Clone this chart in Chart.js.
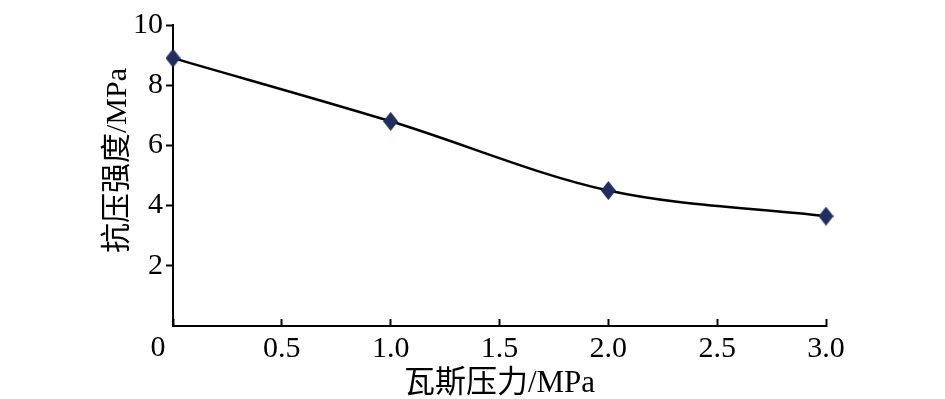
<!DOCTYPE html>
<html>
<head>
<meta charset="utf-8">
<script src="https://cdn.jsdelivr.net/npm/chart.js@4"></script>
<style>
  html, body { margin: 0; padding: 0; background: #fff; }
  #wrap { width: 945px; height: 399px; }
</style>
</head>
<body>
<div id="wrap"><canvas id="chart"></canvas></div>
<script>
// data
const gasPressure = [0, 1.0, 2.0, 3.0];          // MPa
const compStrength = [8.9, 6.8, 4.5, 3.65];      // MPa
const yTickValues = [2, 4, 6, 8, 10];
const xTitle = '瓦斯压力/MPa';
const yTitle = '抗压强度/MPa';

const FONT = "'Liberation Serif', 'Times New Roman', 'Noto Sans CJK SC', serif";

// tall diamond marker like the original (a bit taller than wide)
function diamond(w, h, color) {
    const c = document.createElement('canvas');
    c.width = w;
    c.height = h;
    const g = c.getContext('2d');
    g.fillStyle = color;
    g.beginPath();
    g.moveTo(w / 2, 0);
    g.lineTo(w, h / 2);
    g.lineTo(w / 2, h);
    g.lineTo(0, h / 2);
    g.closePath();
    g.fill();
    return c;
}

// origin "0" sits left of the axis corner in the original
const originLabel = {
    id: 'originLabel',
    afterDraw(chart) {
        const x = chart.scales.x;
        const ctx = chart.ctx;
        ctx.save();
        ctx.font = `30px ${FONT}`;
        ctx.fillStyle = '#000';
        ctx.textAlign = 'center';
        ctx.textBaseline = 'middle';
        ctx.fillText('0', x.getPixelForValue(0) - 15, x.top + 22);
        ctx.restore();
    }
};

const points = gasPressure.map((p, i) => ({ x: p, y: compStrength[i] }));

new Chart(document.getElementById('chart').getContext('2d'), {
    type: 'line',
    data: {
        datasets: [{
            data: points,
            borderColor: '#000',
            borderWidth: 2.5,
            cubicInterpolationMode: 'monotone',
            pointStyle: diamond(15, 19, '#1f2d5f'),
            pointRadius: 8,
            pointHoverRadius: 8,
            clip: false
        }]
    },
    options: {
        responsive: true,
        maintainAspectRatio: false,
        animation: false,
        events: [],
        layout: { padding: { left: 103, right: 119, top: 25, bottom: 0 } },
        plugins: {
            legend: { display: false },
            tooltip: { enabled: false }
        },
        scales: {
            x: {
                type: 'linear',
                min: 0,
                max: 3,
                afterFit: s => { s.height = 73; },
                border: { display: true, color: '#000', width: 2 },
                grid: {
                    drawOnChartArea: false,
                    drawTicks: true,
                    tickLength: -7,   // ticks point up into the plot
                    tickWidth: 2,
                    tickColor: '#000'
                },
                ticks: {
                    stepSize: 0.5,
                    padding: 12,
                    color: '#000',
                    font: { family: FONT, size: 30 },
                    maxRotation: 0,
                    callback: v => (v === 0 ? '' : v.toFixed(1))
                },
                title: {
                    display: true,
                    text: xTitle,
                    color: '#000',
                    padding: 0,
                    font: { family: FONT, size: 31, lineHeight: 1 }
                }
            },
            y: {
                min: 0,
                max: 10,
                afterFit: s => { s.width = 70; },
                afterBuildTicks: s => { s.ticks = [0].concat(yTickValues).map(v => ({ value: v })); },
                border: { display: true, color: '#000', width: 2 },
                grid: {
                    drawOnChartArea: false,
                    drawTicks: true,
                    tickLength: 7,
                    tickWidth: 2,
                    tickColor: ctx => (ctx.tick && ctx.tick.value === 0 ? 'rgba(0,0,0,0)' : '#000')
                },
                ticks: {
                    padding: 3,
                    color: '#000',
                    font: { family: FONT, size: 30 },
                    callback: v => (v === 0 ? '' : String(v))
                },
                title: {
                    display: true,
                    // leading spaces nudge the rotated title upward like the original
                    text: '\u00a0\u00a0\u00a0\u00a0' + yTitle,
                    color: '#000',
                    padding: 0,
                    font: { family: FONT, size: 30, lineHeight: 1 }
                }
            }
        }
    },
    plugins: [originLabel]
});
</script>
</body>
</html>
